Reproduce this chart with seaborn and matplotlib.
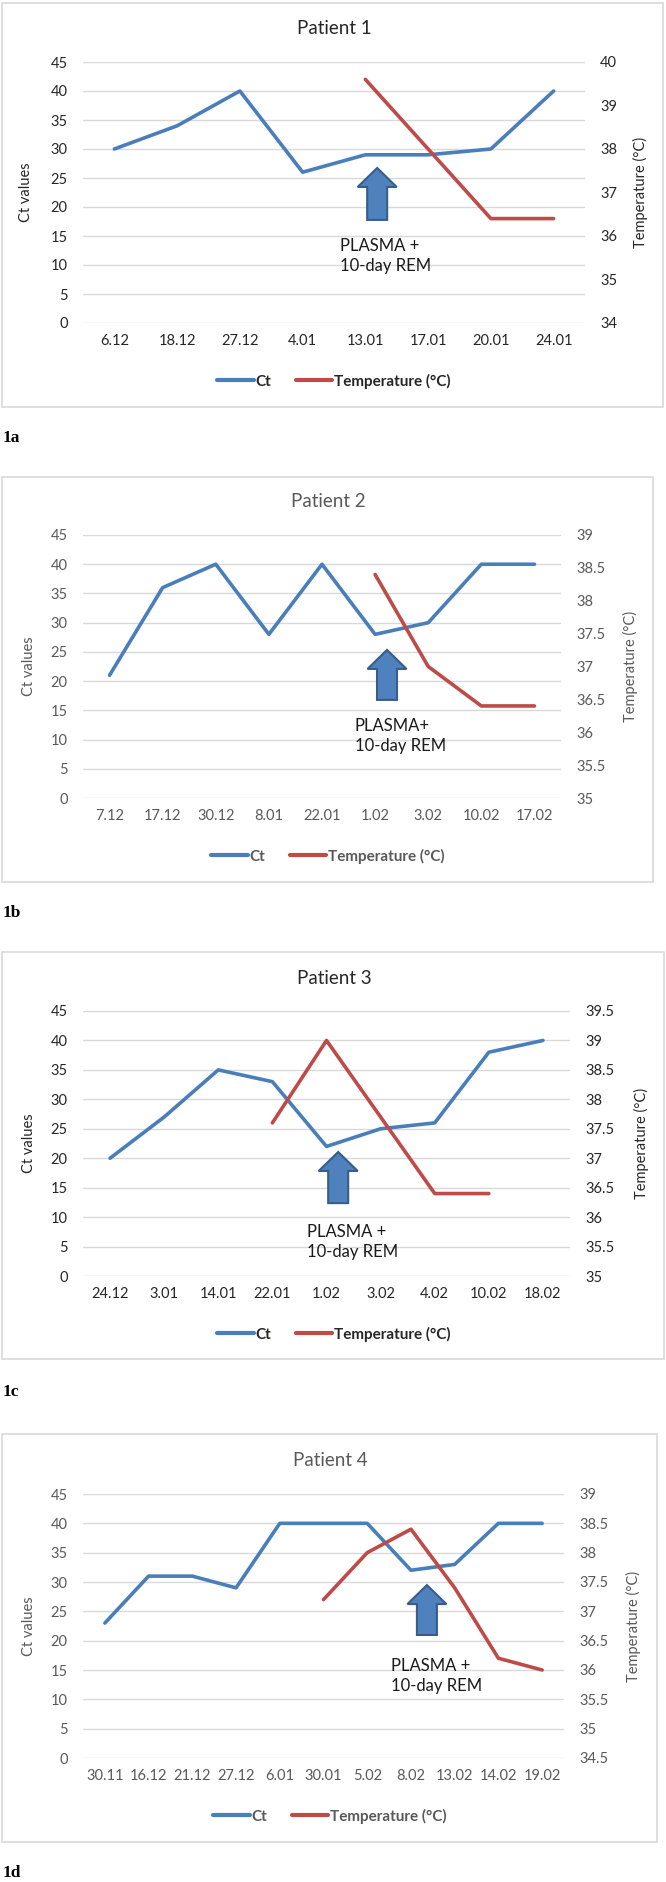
import numpy as np
import matplotlib
matplotlib.use("Agg")
import matplotlib.pyplot as plt
import matplotlib.patches as mpatches
from matplotlib.lines import Line2D
import seaborn as sns

nan = np.nan

# data
p1_dates = ["6.12", "18.12", "27.12", "4.01", "13.01", "17.01", "20.01", "24.01"]
p1_ct = [30, 34, 40, 26, 29, 29, 30, 40]
p1_temp = [nan, nan, nan, nan, 39.6, 38.0, 36.4, 36.4]

p2_dates = ["7.12", "17.12", "30.12", "8.01", "22.01", "1.02", "3.02", "10.02", "17.02"]
p2_ct = [21, 36, 40, 28, 40, 28, 30, 40, 40]
p2_temp = [nan, nan, nan, nan, nan, 38.4, 37.0, 36.4, 36.4]

p3_dates = ["24.12", "3.01", "14.01", "22.01", "1.02", "3.02", "4.02", "10.02", "18.02"]
p3_ct = [20, 27, 35, 33, 22, 25, 26, 38, 40]
p3_temp = [nan, nan, nan, 37.6, 39.0, 37.7, 36.4, 36.4, nan]

p4_dates = ["30.11", "16.12", "21.12", "27.12", "6.01", "30.01", "5.02", "8.02", "13.02", "14.02", "19.02"]
p4_ct = [23, 31, 31, 29, 40, 40, 40, 32, 33, 40, 40]
p4_temp = [nan, nan, nan, nan, nan, 37.2, 38.0, 38.4, 37.4, 36.2, 36.0]

titles = ["Patient 1", "Patient 2", "Patient 3", "Patient 4"]
panel_tags = ["1a", "1b", "1c", "1d"]
notes = ["PLASMA +\n10-day REM", "PLASMA+\n10-day REM", "PLASMA +\n10-day REM", "PLASMA +\n10-day REM"]
temp_ranges = [(34, 40, 1), (35, 39, 0.5), (35, 39.5, 0.5), (34.5, 39, 0.5)]

sns.set_style("white")
plt.rcParams["font.family"] = ["Lato", "DejaVu Sans"]

W, H = 666, 1882
fig = plt.figure(figsize=(W / 100, H / 100), dpi=100)

BLUE = "#4A7EBB"
RED = "#BE4B48"

# layout in pixels (left, right, top, bottom of plot area), frame box, title/legend/tag positions
layout = [
    dict(ax=(83, 585, 62, 323), box=(2, 663, 3, 407), title_y=28, cx=334, leg_y=381, tag_y=438,
         arrow=(0.586, 0.594, 0.395), note=(0.512, 0.257), ylab=-0.1, tlab=1.096, col="#262626"),
    dict(ax=(83, 561, 535, 798), box=(2, 653, 477, 882), title_y=502, cx=328, leg_y=856, tag_y=913,
         arrow=(0.636, 0.563, 0.373), note=(0.569, 0.236), ylab=-0.098, tlab=1.13, col="#595959"),
    dict(ax=(83, 570, 1011, 1276), box=(2, 664, 952, 1359), title_y=978, cx=334, leg_y=1334, tag_y=1392,
         arrow=(0.524, 0.468, 0.275), note=(0.460, 0.128), ylab=-0.097, tlab=1.131, col="#262626"),
    dict(ax=(83, 564, 1494, 1758), box=(2, 657, 1434, 1842), title_y=1461, cx=330, leg_y=1816, tag_y=1873,
         arrow=(0.715, 0.655, 0.466), note=(0.640, 0.312), ylab=-0.098, tlab=1.129, col="#595959"),
]

panels = [(p1_dates, p1_ct, p1_temp), (p2_dates, p2_ct, p2_temp),
          (p3_dates, p3_ct, p3_temp), (p4_dates, p4_ct, p4_temp)]

for i, (dates, ct, temp) in enumerate(panels):
    L = layout[i]
    l, r, t, b = L["ax"]
    col = L["col"]

    # outer frame
    bx0, bx1, by0, by1 = L["box"]
    fig.patches.append(mpatches.Rectangle((bx0 / W, 1 - by1 / H), (bx1 - bx0) / W, (by1 - by0) / H,
                                          transform=fig.transFigure, fill=False,
                                          edgecolor="#d9d9d9", lw=1.2))

    ax = fig.add_axes([l / W, 1 - b / H, (r - l) / W, (b - t) / H])
    x = np.arange(len(dates))
    sns.lineplot(x=x, y=ct, ax=ax, color=BLUE, lw=2.6, sort=False)
    ax.set_xlim(-0.5, len(dates) - 0.5)
    ax.set_ylim(0, 45)
    ax.set_yticks(range(0, 50, 5))
    ax.set_xticks(x)
    ax.set_xticklabels(dates)
    ax.grid(axis="y", color="#d9d9d9", lw=1)
    ax.set_axisbelow(True)
    for s in ax.spines.values():
        s.set_visible(False)
    ax.tick_params(length=0, labelsize=10.5, labelcolor=col)
    ax.tick_params(axis="y", pad=11)
    ax.tick_params(axis="x", pad=8)
    ax.set_xlabel("")
    ax.set_ylabel("Ct values", fontsize=10.5, color=col)
    ax.yaxis.set_label_coords(L["ylab"], 0.5)

    ax2 = ax.twinx()
    sns.lineplot(x=x, y=temp, ax=ax2, color=RED, lw=2.6, sort=False)
    lo, hi, step = temp_ranges[i]
    ax2.set_ylim(lo, hi)
    ax2.set_yticks(np.arange(lo, hi + step / 2, step))
    ax2.set_yticklabels([f"{v:g}" for v in np.arange(lo, hi + step / 2, step)])
    for s in ax2.spines.values():
        s.set_visible(False)
    ax2.grid(False)
    ax2.tick_params(length=0, labelsize=10.5, labelcolor=col, pad=11)
    ax2.set_ylabel("Temperature (°C)", fontsize=10.5, color=col)
    ax2.yaxis.set_label_coords(L["tlab"], 0.5)

    # treatment arrow and note
    acx, atip, abase = L["arrow"]
    head_len = 19 / (b - t)
    ax.add_patch(mpatches.FancyArrow(acx, abase, 0, atip - abase, width=20 / (r - l),
                                     head_width=39 / (r - l), head_length=head_len,
                                     length_includes_head=True, transform=ax.transAxes,
                                     facecolor="#4F81BD", edgecolor="#385D8A", lw=1.5, zorder=5))
    ax.text(L["note"][0], L["note"][1], notes[i], transform=ax.transAxes, ha="left", va="center",
            fontsize=12, color="#1a1a1a", linespacing=1.3)

    fig.text(L["cx"] / W, 1 - L["title_y"] / H, titles[i], ha="center", va="center",
             fontsize=13.5, color=col)

    handles = [Line2D([], [], color=BLUE, lw=3), Line2D([], [], color=RED, lw=3)]
    fig.legend(handles, ["Ct", "Temperature (°C)"], loc="center",
               bbox_to_anchor=(L["cx"] / W, 1 - L["leg_y"] / H), ncol=2, frameon=False,
               handlelength=2.4, handletextpad=0.1, columnspacing=1.6,
               prop={"size": 11, "weight": "bold"}, labelcolor=col)

    fig.text(3 / W, 1 - L["tag_y"] / H, panel_tags[i], ha="left", va="center",
             fontsize=12.5, fontweight="bold", family="Liberation Serif", color="black")

fig.savefig("out.png", dpi=100, facecolor="white")
